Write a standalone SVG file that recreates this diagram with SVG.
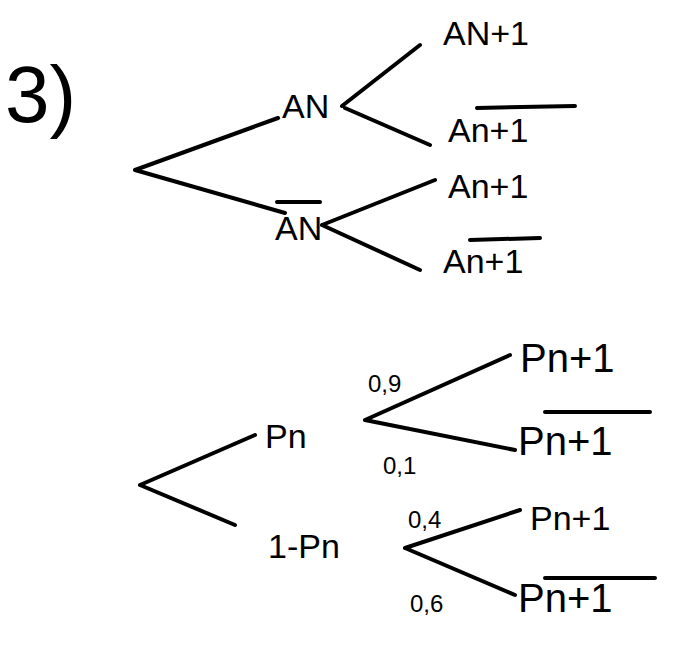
<svg xmlns="http://www.w3.org/2000/svg" width="682" height="645" viewBox="0 0 682 645">
<style>
.e{stroke:#000;stroke-width:4;stroke-linecap:round;fill:none}
text{font-family:"Liberation Sans",sans-serif;fill:#000}
.n{font-size:34px}
.s{font-size:24px}
</style>
<rect width="682" height="645" fill="#fff"/>
<text x="5" y="122" font-size="80">3)</text>
<g id="connectors">
<path class="e" d="M135 170L278 118M135 170L285 213M342 106L420 45M345 108L430 145M322 225L435 180M322 225L420 270"/>
<path class="e" d="M140 485L255 435M140 485L235 525M365 420L510 355M365 420L515 450M405 548L520 510M405 548L515 595"/>
</g>
<g id="overlines">
<path class="e" d="M277 202L320 202M477 108L575 106M470 240L540 238M545 412L650 412M545 578L655 578"/>
</g>
<g id="An"><text class="n" x="282" y="118">AN</text></g>
<g id="An1"><text class="n" x="443" y="45">AN+1</text></g>
<g id="An1b"><text class="n" x="448" y="142">An+1</text></g>
<g id="Anb"><text class="n" x="275" y="240">AN</text></g>
<g id="An1c"><text class="n" x="448" y="198">An+1</text></g>
<g id="An1d"><text class="n" x="443" y="273">An+1</text></g>
<g id="Pn"><text class="n" x="265" y="448">Pn</text></g>
<g id="Pn1"><text font-size="40" x="520" y="372">Pn+1</text></g>
<g id="Pn1b"><text font-size="40" x="518" y="455">Pn+1</text></g>
<g id="1Pn"><text class="n" x="268" y="558">1-Pn</text></g>
<g id="Pn1c"><text class="n" x="530" y="530">Pn+1</text></g>
<g id="Pn1d"><text font-size="40" x="518" y="612">Pn+1</text></g>
<text class="s" x="368" y="392">0,9</text>
<text class="s" x="383" y="474">0,1</text>
<text class="s" x="408" y="528">0,4</text>
<text class="s" x="410" y="612">0,6</text>
</svg>
